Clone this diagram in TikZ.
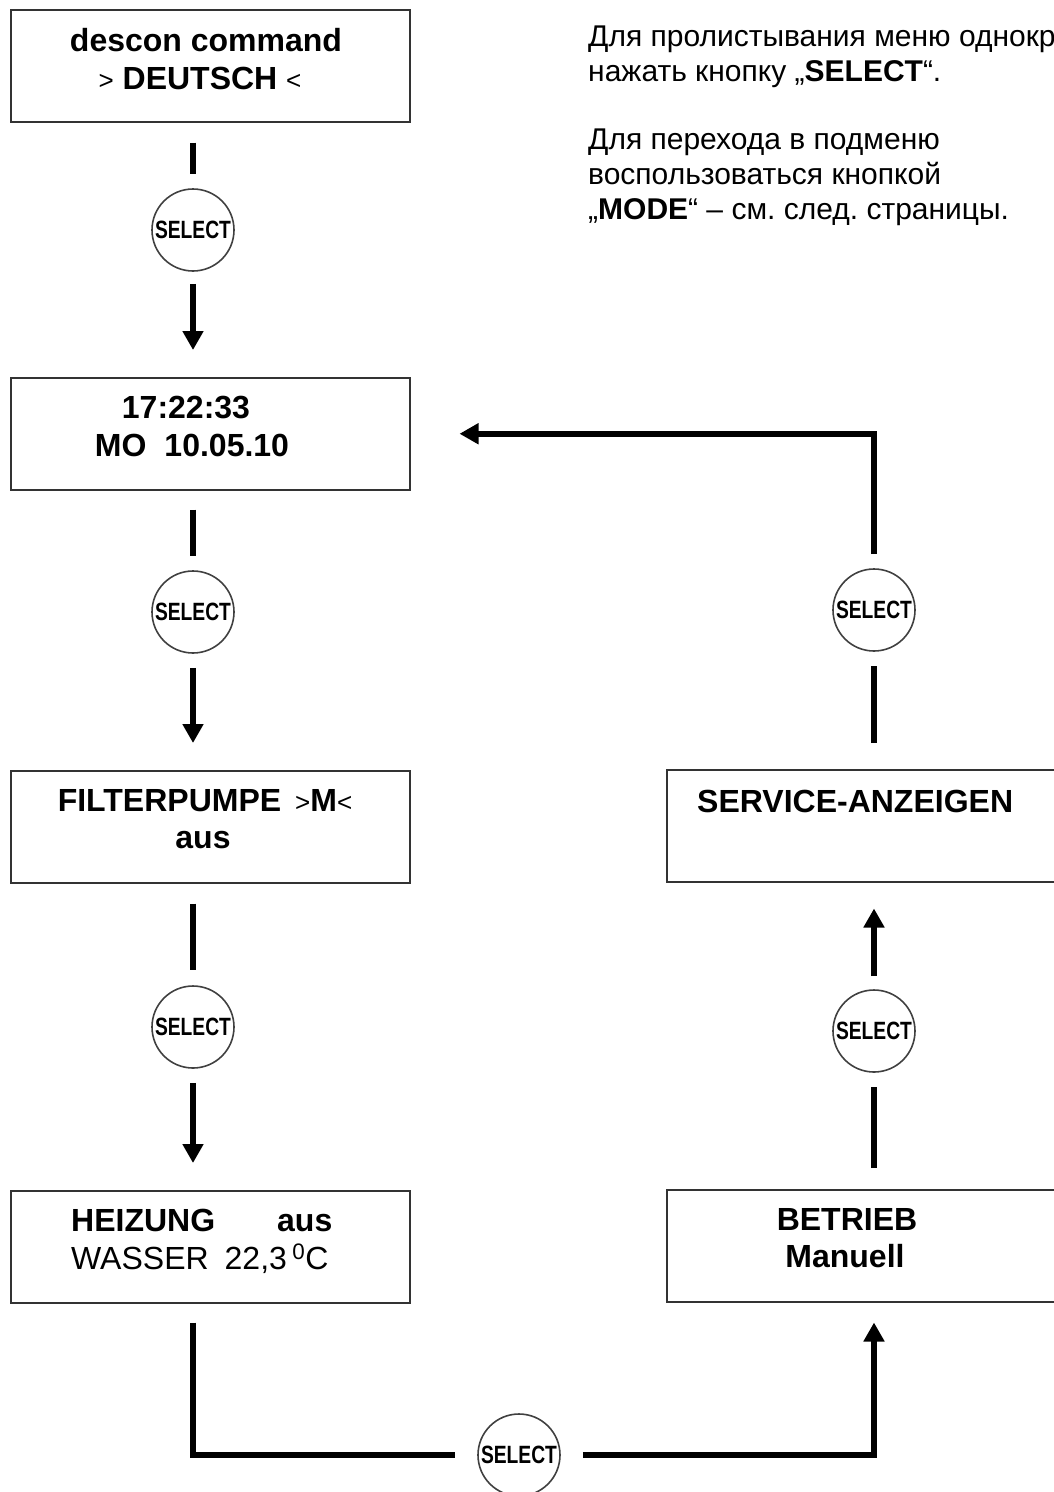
\documentclass[tikz,border=0pt]{standalone}
\usepackage{fontspec}
\setmainfont{Liberation Sans}
\usepackage{graphicx}
\usetikzlibrary{arrows.meta}
\frenchspacing
\newcommand{\lcdsym}[1]{{\fontsize{26}{26}\selectfont\mdseries #1}}
\newcommand{\keylabel}{\scalebox{0.77}[1]{SELECT}}

\begin{document}
\begin{tikzpicture}[x=1pt,y=-1pt,
  lcd/.style={draw=black!80,line width=1.5pt,minimum width=399pt,minimum height=112pt,inner sep=0pt,anchor=north west},
  row/.style={font=\bfseries\fontsize{32}{38}\selectfont,anchor=base,inner sep=0pt},
  key/.style={circle,draw=black!75,line width=1.6pt,minimum size=82pt,inner sep=0pt,font=\bfseries\fontsize{25}{25}\selectfont},
  conn/.style={line width=6.5pt},
  arr/.style={conn,-{Triangle[width=20pt,length=19pt]}},
  note/.style={font=\fontsize{30}{35}\selectfont,align=left,anchor=north west,inner sep=0pt}]
\clip (0,0) rectangle (1054,1492);

% display boxes
\node[lcd] (b1) at (10,9) {};
\node[row] (t1a) at (206,51) {descon command};
\node[row] (t1b) at (200,89) {\lcdsym{>} DEUTSCH \lcdsym{<}};

\node[lcd] (b2) at (10,377) {};
\node[row] (t2a) at (186,418) {17:22:33};
\node[row] (t2b) at (192,456) {MO\hspace{18pt}10.05.10};

\node[lcd] (b3) at (10,770) {};
\node[row] (t3a) at (205,811) {FILTERPUMPE\hspace{14pt}\lcdsym{>}M\lcdsym{<}};
\node[row] (t3b) at (203,848) {aus};

\node[lcd] (b4) at (10,1190) {};
\node[row,anchor=base west] (t4a) at (71,1231) {HEIZUNG\hspace{62pt}aus};
\node[row,anchor=base west,font=\fontsize{32}{38}\selectfont] (t4b) at (71,1269) {WASSER\hspace{16pt}22,3\,\textsuperscript{0}C};

\node[lcd] (b5) at (666,769) {};
\node[row,anchor=base west] (t5a) at (697,812) {SERVICE-ANZEIGEN};

\node[lcd] (b6) at (666,1189) {};
\node[row] (t6a) at (847,1230) {BETRIEB};
\node[row] (t6b) at (845,1267) {Manuell};

% select keys
\node[key] (s1) at (193,230) {\keylabel};
\node[key] (s2) at (193,612) {\keylabel};
\node[key] (s3) at (193,1027) {\keylabel};
\node[key] (s4) at (874,610) {\keylabel};
\node[key] (s5) at (874,1031) {\keylabel};
\node[key] (s6) at (519,1455) {\keylabel};

% left column
\draw[conn,shorten <=20pt,shorten >=14pt] (b1.south -| s1) -- (s1);
\draw[arr,shorten <=12pt,shorten >=27pt] (s1) -- (b2.north -| s1);
\draw[conn,shorten <=19pt,shorten >=14pt] (b2.south -| s2) -- (s2);
\draw[arr,shorten <=14pt,shorten >=27pt] (s2) -- (b3.north -| s2);
\draw[conn,shorten <=20pt,shorten >=15pt] (b3.south -| s3) -- (s3);
\draw[arr,shorten <=14pt,shorten >=27pt] (s3) -- (b4.north -| s3);

% bottom and right column
\draw[conn,shorten <=19pt,shorten >=22pt] (b4.south -| s3) -- (s3 |- s6) -- (s6);
\draw[arr,shorten <=22pt,shorten >=20pt] (s6) -- (s6 -| s5) -- (b6.south -| s5);
\draw[conn,shorten <=21pt,shorten >=14pt] (b6.north -| s5) -- (s5);
\draw[arr,shorten <=13pt,shorten >=26pt] (s5) -- (b5.south -| s5);
\draw[conn,shorten <=26pt,shorten >=14pt] (b5.north -| s4) -- (s4);
\draw[arr,shorten <=14pt,shorten >=49pt] (s4) -- (s4 |- b2.east) -- (b2.east);

% hints
\node[note] (n1) at (588,26) {Для пролистывания меню однократно\\нажать кнопку „\textbf{SELECT}“.};
\node[note] (n2) at (588,129) {Для перехода в подменю\\воспользоваться кнопкой\\„\textbf{MODE}“ – см. след. страницы.};
\end{tikzpicture}
\end{document}
